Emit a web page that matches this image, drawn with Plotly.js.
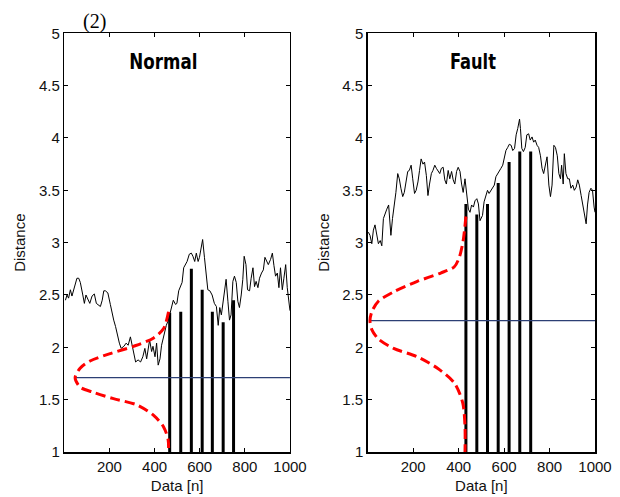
<!DOCTYPE html>
<html>
<head>
<meta charset="utf-8">
<script src="https://cdn.plot.ly/plotly-3.0.1.min.js"></script>
<style>html,body{margin:0;padding:0;background:#fff;}#chart{width:620px;height:497px;}</style>
</head>
<body>
<div id="chart"></div>
<script>
// ---- Normal panel data ----
const normalX = [5,12,19,27,34,46,56,64,71,82,89,96,105,113,123,133,142,150,160,168,175,182,193,204,212,219,227,234,244,252,264,274,283,293,301,308,316,327,338,348,357,365,372,378,387,393,402,409,416,424,431,441,452,461,471,483,493,
499,507,514,522,529,536,544,554,563,570,578,585,593,599,606,613,621,628,636,645,655,665,674,682,689,696,704,711,717,725,732,739,747,754,762,769,776,784,791,797,805,812,821,828,836,843,850,858,865,874,882,889,896,904,914,922,929,936,944,951,958,966,973,981,988,996,1000];
const normalY = [2.45,2.50,2.47,2.55,2.49,2.57,2.66,2.66,2.62,2.50,2.42,2.50,2.45,2.42,2.49,2.51,2.42,2.41,2.39,2.45,2.54,2.54,2.52,2.41,2.31,2.26,2.20,2.12,2.04,1.99,2.01,2.04,2.02,2.10,2.02,1.93,1.86,1.88,1.86,1.91,1.99,1.89,1.97,2.07,1.96,2.01,1.91,2.04,1.83,1.89,2.02,2.12,2.21,2.26,2.34,2.45,2.41,
2.42,2.54,2.58,2.62,2.76,2.79,2.82,2.89,2.90,2.87,2.82,2.90,2.82,2.86,2.94,3.03,2.86,2.70,2.55,2.54,2.50,2.42,2.39,2.21,2.38,2.31,2.44,2.60,2.65,2.44,2.26,2.31,2.63,2.68,2.62,2.44,2.38,2.50,2.65,2.87,2.79,2.55,2.54,2.66,2.76,2.58,2.63,2.57,2.66,2.71,2.74,2.86,2.82,2.79,2.84,2.90,2.78,2.68,2.71,2.57,2.76,2.55,2.66,2.79,2.57,2.41,2.35];
const normalBarX = [467,516,563,611,656,704,750];
const normalBarTop = [2.33,2.34,2.75,2.55,2.34,2.24,2.45];
const normalPdfX = [462,440,396,307,203,114,70,48,70,129,218,322,396,440,460,462];
const normalPdfY = [2.34,2.18,2.09,2.01,1.94,1.87,1.80,1.71,1.62,1.57,1.51,1.45,1.35,1.24,1.12,1.0];
const normalThreshold = 1.71;

// ---- Fault panel data ----
const faultX = [3,10,18,25,32,40,47,55,62,69,77,84,92,96,102,109,117,124,132,139,146,154,161,169,176,183,191,198,206,213,221,228,235,243,250,258,265,272,280,287,295,302,309,317,324,332,339,346,354,361,369,376,383,391,398,406,413,420,428,435,443,450,457,465,472,480,487,
494,501,505,512,520,527,534,542,549,557,564,571,579,586,594,601,608,616,623,631,638,646,653,660,668,672,678,685,693,700,708,715,723,730,737,745,752,760,767,774,782,789,797,804,811,819,826,834,841,848,853,860,865,872,880,887,894,902,909,917,924,931,939,946,954,961,967,974,982,989,996,1000];
const faultY = [3.10,3.07,2.99,3.12,3.17,3.07,2.99,3.02,2.97,3.23,3.29,3.32,3.36,3.26,3.07,3.23,3.36,3.48,3.66,3.61,3.52,3.44,3.48,3.61,3.68,3.69,3.74,3.61,3.47,3.50,3.58,3.69,3.80,3.75,3.77,3.64,3.45,3.56,3.66,3.69,3.74,3.71,3.69,3.66,3.71,3.72,3.60,3.56,3.69,3.61,3.68,3.60,3.56,3.68,3.72,3.68,3.56,3.48,3.61,3.45,3.32,3.29,3.36,3.34,3.40,3.42,3.37,
3.21,3.25,3.26,3.39,3.45,3.50,3.47,3.50,3.52,3.55,3.63,3.66,3.69,3.71,3.74,3.82,3.88,3.91,3.94,3.93,3.88,3.90,4.03,4.09,4.18,4.09,3.90,3.87,3.91,4.03,4.04,3.98,4.01,3.96,3.98,3.93,3.91,3.83,3.71,3.66,3.75,3.82,3.55,3.44,3.55,3.93,3.91,3.83,3.66,3.61,3.74,3.56,3.85,3.66,3.61,3.61,3.52,3.55,3.50,3.53,3.60,3.55,3.45,3.36,3.26,3.18,3.36,3.48,3.52,3.50,3.34,3.29];
const faultBarX = [432,480,527,574,622,669,717];
const faultBarTop = [3.37,3.27,3.37,3.57,3.77,3.87,3.87];
const faultPdfX = [432,420,403,381,321,218,114,47,18,10,18,47,114,218,307,381,418,428,428];
const faultPdfY = [3.25,3.02,2.86,2.77,2.71,2.63,2.53,2.44,2.34,2.255,2.17,2.08,1.99,1.91,1.80,1.66,1.47,1.24,1.0];
const faultThreshold = 2.255;

const panelTitles = ['Normal', 'Fault'];
const figureLabel = '(2)';
const yBase = 1;
const xMax = 1000;

function barSegments(xs, tops) {
  const x = [], y = [];
  xs.forEach((v, i) => { x.push(v, v, null); y.push(yBase, tops[i], null); });
  return {x, y};
}

function panelTraces(xa, ya, dx, dy, bx, btop, px, py, thr) {
  const segs = barSegments(bx, btop);
  const peakX = Math.min(...px);
  return [
    {x: dx, y: dy, xaxis: xa, yaxis: ya, type: 'scatter', mode: 'lines',
     line: {color: '#000', width: 1}, hoverinfo: 'skip'},
    {x: segs.x, y: segs.y, xaxis: xa, yaxis: ya, type: 'scatter', mode: 'lines',
     line: {color: '#000', width: 3}, hoverinfo: 'skip'},
    {x: [peakX, xMax], y: [thr, thr], xaxis: xa, yaxis: ya, type: 'scatter', mode: 'lines',
     line: {color: '#2c3f74', width: 1.3}, hoverinfo: 'skip'},
    {x: px, y: py, xaxis: xa, yaxis: ya, type: 'scatter', mode: 'lines',
     line: {color: '#ff0000', width: 3, dash: '10px,5px', shape: 'spline', smoothing: 0.8}, hoverinfo: 'skip'}
  ];
}

const data = [].concat(
  panelTraces('x', 'y', normalX, normalY, normalBarX, normalBarTop, normalPdfX, normalPdfY, normalThreshold),
  panelTraces('x2', 'y2', faultX, faultY, faultBarX, faultBarTop, faultPdfX, faultPdfY, faultThreshold)
);

const tickFont = {family: 'Liberation Sans, Arial, sans-serif', size: 15, color: '#111'};
function xAxis(domain, anchor) {
  return {domain: domain, anchor: anchor, range: [0, xMax], tickvals: [200,400,600,800,1000],
    ticks: 'inside', ticklen: 4, tickcolor: '#000', mirror: 'ticks', showline: true, linecolor: '#000', linewidth: 1.5,
    showgrid: false, zeroline: false, tickfont: tickFont,
    title: {text: 'Data [n]', font: tickFont, standoff: 7}};
}
function yAxis(domain, anchor) {
  return {domain: domain, anchor: anchor, range: [1, 5], tickvals: [1,1.5,2,2.5,3,3.5,4,4.5,5],
    ticktext: ['1','1.5','2','2.5','3','3.5','4','4.5','5'],
    ticks: 'inside', ticklen: 4, tickcolor: '#000', mirror: 'ticks', showline: true, linecolor: '#000', linewidth: 1.5,
    showgrid: false, zeroline: false, tickfont: tickFont,
    title: {text: 'Distance', font: tickFont, standoff: 9}};
}

const yDom = [0.0905, 0.933];
const titleFont = {family: 'DejaVu Sans Condensed, Liberation Sans, Arial, sans-serif', size: 22, color: '#000', weight: 'bold'};
const layout = {
  width: 620, height: 497,
  margin: {l: 0, r: 0, t: 0, b: 0},
  paper_bgcolor: '#fff', plot_bgcolor: '#fff',
  showlegend: false,
  xaxis: xAxis([0.1037, 0.4677], 'y'),
  yaxis: yAxis(yDom, 'x'),
  xaxis2: xAxis([0.5931, 0.9597], 'y2'),
  yaxis2: yAxis(yDom, 'x2'),
  annotations: [
    {text: '<b>' + panelTitles[0] + '</b>', xref: 'paper', yref: 'paper', x: 163.5/620, y: 1 - 61.5/497, xanchor: 'center', yanchor: 'middle', showarrow: false, font: titleFont},
    {text: '<b>' + panelTitles[1] + '</b>', xref: 'paper', yref: 'paper', x: 473/620, y: 1 - 61.5/497, xanchor: 'center', yanchor: 'middle', showarrow: false, font: titleFont},
    {text: figureLabel, xref: 'paper', yref: 'paper', x: 94/620, y: 1 - 22/497, xanchor: 'center', yanchor: 'middle', showarrow: false,
     font: {family: 'Liberation Serif, Times New Roman, serif', size: 20, color: '#000'}}
  ]
};

// target rendered widths (px) of the condensed bold panel titles
const titleWidths = {Normal: 68, Fault: 46};

Plotly.newPlot('chart', data, layout, {displayModeBar: false, staticPlot: true}).then(function () {
  document.querySelectorAll('#chart .annotation-text').forEach(function (t) {
    const w = titleWidths[t.textContent.trim()];
    if (w) {
      t.setAttribute('textLength', w);
      t.setAttribute('lengthAdjust', 'spacingAndGlyphs');
    }
  });
});
</script>
</body>
</html>
